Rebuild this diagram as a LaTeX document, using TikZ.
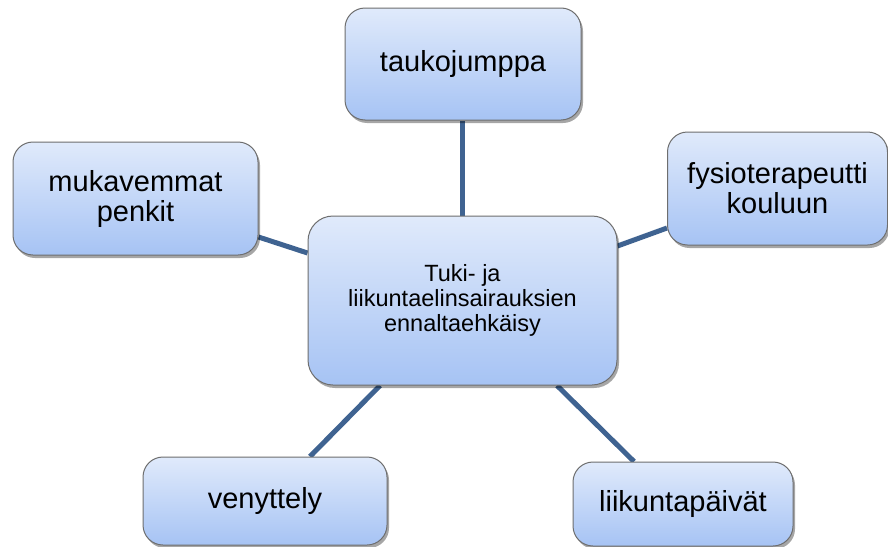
\documentclass[tikz,border=0pt]{standalone}
\usepackage{fontspec}
\setmainfont{Liberation Sans}
\usetikzlibrary{shadows,backgrounds}
\definecolor{linkblue}{RGB}{63,99,145}
\definecolor{boxtop}{RGB}{224,234,251}
\definecolor{boxbot}{RGB}{166,195,244}
\definecolor{boxline}{RGB}{110,110,110}
\begin{document}
\begin{tikzpicture}[x=1pt,y=-1pt,
  box/.style={draw=boxline, line width=1pt, rounded corners=20pt,
    top color=boxtop, bottom color=boxbot, align=center,
    drop shadow={shadow xshift=2pt, shadow yshift=-3pt, opacity=0.35, fill=black},
    font=\fontsize{29}{30}\selectfont, inner sep=0pt},
  link/.style={draw=linkblue, line width=5pt}]
\useasboundingbox (0,0) rectangle (888,546);
\node[box, minimum width=309pt, minimum height=169pt, rounded corners=25pt,
  font=\fontsize{23.5}{25}\selectfont] (c) at (462.5,300.5)
  {Tuki- ja\\liikuntaelinsairauksien\\ennaltaehkäisy};
\node[box, minimum width=236pt, minimum height=112pt] (t) at (463,64) {taukojumppa};
\node[box, minimum width=245pt, minimum height=113pt] (l) at (135.5,198.5) {mukavemmat\\penkit};
\node[box, minimum width=220pt, minimum height=113pt] (r) at (777.5,188.5) {fysioterapeutti\\kouluun};
\node[box, minimum width=244pt, minimum height=88pt] (bl) at (265,501) {venyttely};
\node[box, minimum width=220pt, minimum height=84pt] (br) at (683,504) {liikuntapäivät};
\begin{scope}[on background layer]
\fill[white] (0,0) rectangle (888,546);
\draw[link] (c.north) -- (c.north |- t.south);
\draw[link] ([yshift=47.5pt]c.west) -- ([yshift=-38.5pt]l.east);
\draw[link] ([yshift=54.5pt]c.east) -- ([yshift=-39.5pt]r.west);
\draw[link] ([xshift=-82.5pt]c.south) -- ([xshift=45pt]bl.north);
\draw[link] ([xshift=94.5pt]c.south) -- ([xshift=-49pt]br.north);
\end{scope}
\end{tikzpicture}
\end{document}
